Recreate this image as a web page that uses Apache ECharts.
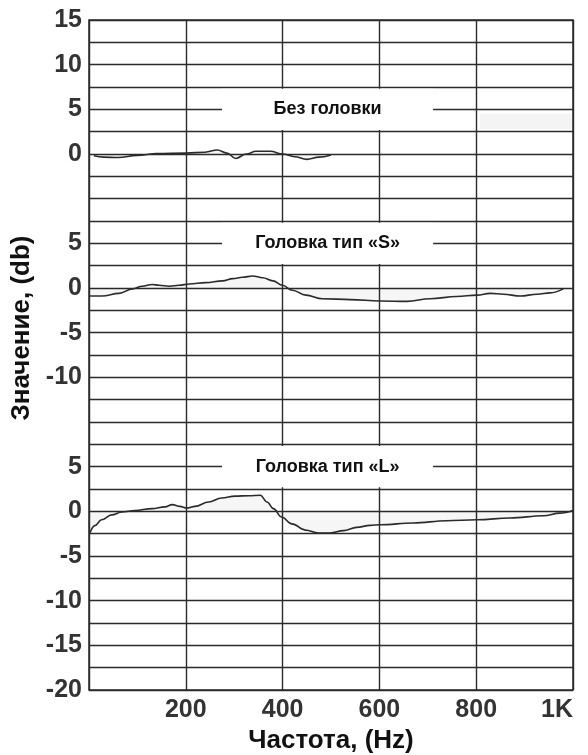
<!DOCTYPE html>
<html>
<head>
<meta charset="utf-8">
<title>АЧХ</title>
<script src="https://cdn.jsdelivr.net/npm/echarts@6.0.0/dist/echarts.min.js"></script>
<style>
  html, body { margin: 0; padding: 0; background: #fff; }
  #chart { width: 588px; height: 755px; }
</style>
</head>
<body>
<div id="chart"></div>
<script>
// частота (Hz), уровень (db)
const noHead = [
  [10, -0.2], [30, -0.35], [60, -0.4], [100, -0.15], [140, 0.05], [200, 0.1],
  [240, 0.2], [265, 0.45], [285, 0.1], [303, -0.5], [325, 0.0], [345, 0.3],
  [375, 0.3], [400, 0.0], [425, -0.3], [450, -0.6], [475, -0.35], [500, -0.1]
]
const headS = [
  [0, -0.9], [27, -0.9], [62, -0.6], [90, -0.1], [110, 0.2], [131, 0.4],
  [145, 0.3], [166, 0.2], [186, 0.3], [207, 0.45], [241, 0.6], [276, 0.8],
  [297, 1.05], [317, 1.2], [338, 1.35], [359, 1.15], [380, 0.8], [400, 0.3],
  [420, -0.25], [448, -0.8], [482, -1.2], [540, -1.3], [601, -1.45], [657, -1.5],
  [705, -1.2], [760, -0.95], [802, -0.8], [829, -0.6], [856, -0.7], [891, -0.9],
  [926, -0.7], [953, -0.55], [980, -0.1]
]
const headL = [
  [2, -2.4], [12, -1.6], [26, -0.95], [47, -0.4], [68, -0.07], [95, 0.1],
  [130, 0.3], [157, 0.5], [172, 0.75], [188, 0.55], [202, 0.37], [219, 0.55],
  [247, 1.04], [274, 1.5], [302, 1.7], [330, 1.75], [354, 1.8], [368, 1.04],
  [381, 0.3], [398, -0.64], [419, -1.4], [447, -2.1], [474, -2.43], [498, -2.42],
  [526, -2.16], [553, -1.8], [581, -1.57], [601, -1.5], [670, -1.3], [739, -1.05],
  [802, -0.94], [870, -0.75], [939, -0.5], [973, -0.2], [1000, 0.1]
]

const curveNames = ['Без головки', 'Головка тип «S»', 'Головка тип «L»']
// где у каждой кривой ноль на общей шкале (шаг сетки 2.5)
const zeroLevels = [60, 45, 20]
const topTicks = [15, 10, 5, 0]
const midTicks = [5, 0, -5, -10]
const lowTicks = [5, 0, -5, -10, -15, -20]
const xTicks = [200, 400, 600, 800, 1000]
const xTickLabels = ['200', '400', '600', '800', '1K']

const yLabels = {}
;[topTicks, midTicks, lowTicks].forEach((ticks, i) => {
  ticks.forEach(t => { yLabels[t + zeroLevels[i]] = String(t) })
})

const FONT = "'Liberation Sans', Arial, sans-serif"
const INK = '#2b2b2b'

const chart = echarts.init(document.getElementById('chart'))

const curves = [noHead, headS, headL]
const series = curves.map((curve, i) => {
  const zero = zeroLevels[i]
  const boxes = [
    [
      { name: curveNames[i], xAxis: 275, yAxis: zero + 2.7 },
      { xAxis: 711, yAxis: zero + 7.3 }
    ]
  ]
  // бледное пятно от скана справа вверху
  if (i === 0) {
    boxes.push([
      { name: '', xAxis: 808, yAxis: zero + 2.8, itemStyle: { color: '#f4f4f4' }, label: { show: false } },
      { xAxis: 998, yAxis: zero + 4.5 }
    ])
  }
  return {
    name: curveNames[i],
    type: 'line',
    data: curve.map(p => [p[0], p[1] + zero]),
    smooth: 0.4,
    smoothMonotone: 'x',
    showSymbol: false,
    lineStyle: { color: INK, width: 1.6 },
    areaStyle: { origin: zero, color: 'rgba(0,0,0,0.05)' },
    markArea: {
      silent: true,
      itemStyle: { color: '#fff', opacity: 1 },
      label: {
        show: true,
        position: 'inside',
        fontFamily: FONT,
        fontSize: 18,
        fontWeight: 'bold',
        color: '#111'
      },
      data: boxes
    }
  }
})

const option = {
  animation: false,
  backgroundColor: '#fff',
  textStyle: { fontFamily: FONT },
  grid: {
    left: 89,
    right: 15,
    top: 20,
    bottom: 65,
    containLabel: false,
    outerBoundsMode: 'none',
    show: true,
    borderColor: INK,
    borderWidth: 1.5
  },
  xAxis: {
    type: 'value',
    min: 0,
    max: 1000,
    interval: 200,
    name: 'Частота, (Hz)',
    nameLocation: 'middle',
    nameGap: 37,
    nameTextStyle: { fontFamily: FONT, fontSize: 26, fontWeight: 'bold', color: '#111' },
    axisLine: { show: false },
    axisTick: { show: false },
    axisLabel: {
      margin: 8,
      fontSize: 25,
      fontWeight: 'bold',
      color: '#333',
      alignMaxLabel: 'right',
      formatter: v => {
        const k = xTicks.indexOf(v)
        return k >= 0 ? xTickLabels[k] : ''
      }
    },
    splitLine: { show: true, lineStyle: { color: INK, width: 1.4 } }
  },
  yAxis: {
    type: 'value',
    min: 0,
    max: 75,
    interval: 2.5,
    name: 'Значение, (db)',
    nameLocation: 'middle',
    nameGap: 50,
    nameRotate: 90,
    nameTextStyle: {
      fontFamily: FONT, fontSize: 26, fontWeight: 'bold', color: '#111',
      padding: [0, 0, 0, 54]
    },
    axisLine: { show: false },
    axisTick: { show: false },
    axisLabel: {
      margin: 7,
      fontSize: 25,
      fontWeight: 'bold',
      color: '#333',
      padding: [8, 0, 0, 0],
      formatter: v => yLabels[Math.round(v * 10) / 10] || ''
    },
    splitLine: { show: true, lineStyle: { color: INK, width: 1.3 } }
  },
  series: series
}

chart.setOption(option)
</script>
</body>
</html>
